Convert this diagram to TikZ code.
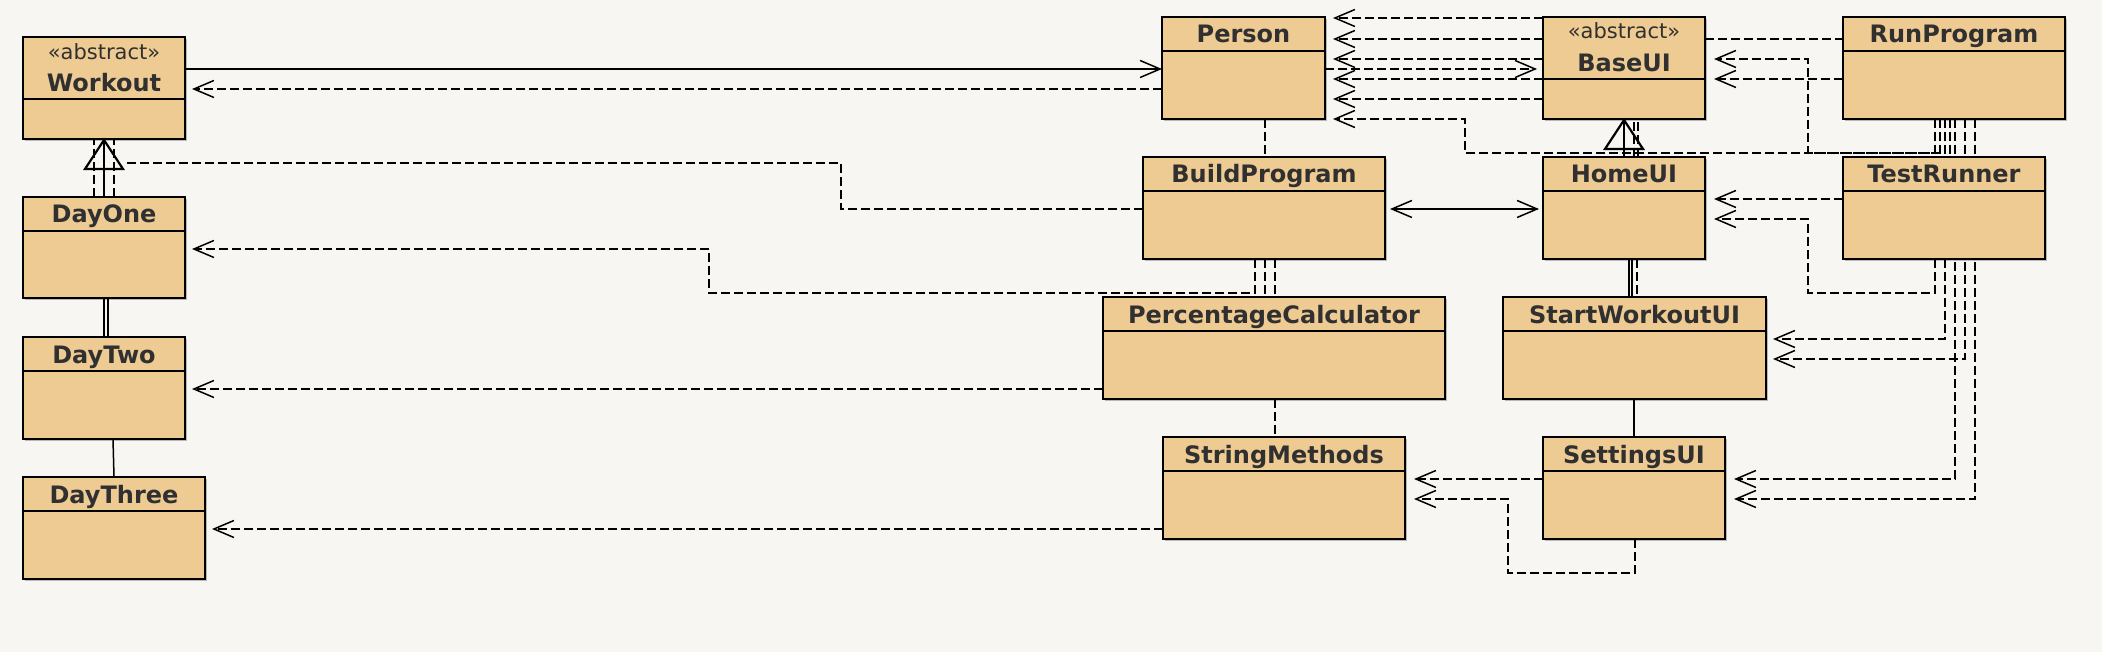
\documentclass[tikz,border=0pt]{standalone}
\usepackage{fontspec}
\setmainfont{DejaVu Sans}
\usetikzlibrary{arrows.meta,calc,fit,backgrounds,shadows}
\definecolor{bgc}{RGB}{247,246,242}
\definecolor{clsfill}{RGB}{239,203,148}
\definecolor{txt}{RGB}{48,48,48}
\tikzset{
 cls/.style={draw=black, line width=1pt, fill=clsfill, inner sep=0pt, outer sep=0pt,
   drop shadow={shadow xshift=1.2pt, shadow yshift=-1.2pt, opacity=0.25, fill=black}},
 divl/.style={draw=black, line width=1pt},
 ttl/.style={font=\fontsize{12}{14}\selectfont\bfseries, text=txt, inner sep=0pt, anchor=base},
 ster/.style={font=\fontsize{10.5}{12}\selectfont, text=txt, inner sep=0pt, anchor=base},
 dline/.style={line width=0.75pt, dash pattern=on 4.5pt off 2pt},
 dep/.style={dline, -{Straight Barb[length=10pt,width=8.5pt]}},
 sline/.style={line width=0.75pt},
 assoc/.style={sline, -{Straight Barb[length=10pt,width=8.5pt]}},
 biassoc/.style={sline, {Straight Barb[length=10pt,width=8.5pt]}-{Straight Barb[length=10pt,width=8.5pt]}},
 thick1/.style={line width=1.1pt},
 tri/.style={line width=1.1pt, line join=miter},
}
\newcommand\umlbox[6]{%
 \node[cls, fit={(#2,#3) (#4,#5)}] (#1) {};
 \draw[divl] ($(#1.north west)+(0,#6)$) -- ($(#1.north east)+(0,#6)$);
}
\begin{document}
\begin{tikzpicture}[x=0.5pt,y=-0.5pt]
\useasboundingbox (0,0) rectangle (2102,652);
% classes
\umlbox{Workout}{23}{37}{185}{139}{62}
\umlbox{DayOne}{23}{197}{185}{298}{34}
\umlbox{DayTwo}{23}{337}{185}{439}{34}
\umlbox{DayThree}{23}{477}{205}{579}{34}
\umlbox{Person}{1162}{17}{1325}{119}{34}
\umlbox{BaseUI}{1543}{17}{1705}{119}{62}
\umlbox{RunProgram}{1843}{17}{2065}{119}{34}
\umlbox{BuildProgram}{1143}{157}{1385}{259}{34}
\umlbox{HomeUI}{1543}{157}{1705}{259}{34}
\umlbox{TestRunner}{1843}{157}{2045}{259}{34}
\umlbox{PercentageCalculator}{1103}{297}{1445}{399}{34}
\umlbox{StartWorkoutUI}{1503}{297}{1766}{399}{34}
\umlbox{StringMethods}{1163}{437}{1405}{539}{34}
\umlbox{SettingsUI}{1543}{437}{1725}{539}{34}
% titles
\node[ster] (WorkoutS) at ($(Workout.north)+(0,23)$) {«abstract»};
\node[ttl] (WorkoutT) at ($(Workout.north)+(0,55)$) {Workout};
\node[ster] (BaseUIS) at ($(BaseUI.north)+(0,22)$) {«abstract»};
\node[ttl] (BaseUIT) at ($(BaseUI.north)+(0,55)$) {BaseUI};
\foreach \n in {DayOne,DayTwo,DayThree,Person,RunProgram,BuildProgram,HomeUI,TestRunner,PercentageCalculator,StartWorkoutUI,StringMethods,SettingsUI}
  \node[ttl] (\n T) at ($(\n.north)+(0,26)$) {\n};
% connectors
\begin{scope}[on background layer]
\fill[bgc] (0,0) rectangle (2102,652);
% Workout -> Person
\draw[assoc] ($(Workout.north east)+(0,32)$) -- ($(Person.north west)+(0,52)$);
\draw[dep] ($(Person.north west)+(0,72)$) -- ($(Workout.north east)+(7,52)$);
% BuildProgram -> Workout
\draw[dline] ($(BuildProgram.north west)+(0,52)$) -| (841,163) -- ($(Workout.south west)+(101,24)$);
% BuildProgram -> DayOne
\draw[dep] ($(BuildProgram.south west)+(112,0)$) |- (709,293) |- ($(DayOne.north east)+(7,52)$);
% PercentageCalculator -> DayTwo
\draw[dep] ($(PercentageCalculator.north west)+(0,92)$) -- ($(DayTwo.north east)+(7,52)$);
% StringMethods -> DayThree
\draw[dep] ($(StringMethods.north west)+(0,92)$) -- ($(DayThree.north east)+(7,52)$);
% Person - BuildProgram
\draw[dline] ($(Person.south west)+(103,0)$) -- ($(BuildProgram.north west)+(122,0)$);
% BuildProgram - PercentageCalculator
\draw[dline] ($(BuildProgram.south west)+(122,0)$) -- ($(PercentageCalculator.north west)+(162,0)$);
\draw[dline] ($(BuildProgram.south west)+(132,0)$) -- ($(PercentageCalculator.north west)+(172,0)$);
% PercentageCalculator - StringMethods
\draw[dline] ($(PercentageCalculator.south west)+(172,0)$) -- ($(StringMethods.north west)+(112,0)$);
% BaseUI -> Person
\foreach \k in {1,22,42,62,82}
  \draw[dep] ($(BaseUI.north west)+(0,\k)$) -- ($(Person.north east)+(8,\k)$);
% Person -> BaseUI
\draw[dep] ($(Person.north east)+(0,52)$) -- ($(BaseUI.north west)+(-6,52)$);
% RunProgram -> Person
\draw[dep] ($(RunProgram.south west)+(92,0)$) |- (1465,153) |- ($(Person.north east)+(8,102)$);
% RunProgram -> BaseUI
\draw[dep] ($(RunProgram.south west)+(102,0)$) |- (1808,153) |- ($(BaseUI.north east)+(9,42)$);
\draw[dline] ($(BaseUI.north east)+(0,22)$) -- ($(RunProgram.north west)+(0,22)$);
\draw[dep] ($(RunProgram.north west)+(0,62)$) -- ($(BaseUI.north east)+(9,62)$);
% RunProgram - TestRunner
\draw[dline] ($(RunProgram.south west)+(97,0)$) -- ($(TestRunner.north west)+(97,0)$);
\draw[dline] ($(RunProgram.south west)+(107,0)$) -- ($(TestRunner.north west)+(107,0)$);
% RunProgram -> SettingsUI / StartWorkoutUI
\draw[dep] ($(RunProgram.south west)+(112,0)$) |- ($(SettingsUI.north east)+(9,42)$);
\draw[dep] ($(RunProgram.south west)+(122,0)$) |- ($(StartWorkoutUI.north east)+(7,62)$);
\draw[dep] ($(RunProgram.south west)+(132,0)$) |- ($(SettingsUI.north east)+(9,62)$);
% TestRunner -> HomeUI / StartWorkoutUI
\draw[dep] ($(TestRunner.north west)+(0,42)$) -- ($(HomeUI.north east)+(9,42)$);
\draw[dep] ($(TestRunner.south west)+(92,0)$) |- (1808,293) |- ($(HomeUI.north east)+(9,62)$);
\draw[dep] ($(TestRunner.south west)+(102,0)$) |- ($(StartWorkoutUI.north east)+(7,42)$);
% SettingsUI -> StringMethods
\draw[dep] ($(SettingsUI.north west)+(0,42)$) -- ($(StringMethods.north east)+(9,42)$);
\draw[dep] ($(SettingsUI.south west)+(92,0)$) |- (1508,573) |- ($(StringMethods.north east)+(9,62)$);
% BuildProgram <-> HomeUI
\draw[biassoc] ($(BuildProgram.north east)+(5,52)$) -- ($(HomeUI.north west)+(-4,52)$);
% HomeUI - BaseUI
\draw[thick1] ($(HomeUI.north west)+(81,0)$) -- ($(BaseUI.south west)+(81,30)$);
\draw[sline] ($(BaseUI.south west)+(81,30)$) -- ($(BaseUI.south west)+(81,0)$);
\draw[dline] ($(HomeUI.north west)+(91,0)$) -- ($(BaseUI.south west)+(91,0)$);
\draw[dline] ($(HomeUI.north west)+(95,0)$) -- ($(BaseUI.south west)+(95,0)$);
% HomeUI - StartWorkoutUI
\draw[sline] ($(HomeUI.south west)+(86,0)$) -- ($(StartWorkoutUI.north west)+(126,0)$);
\draw[sline] ($(HomeUI.south west)+(89,0)$) -- ($(StartWorkoutUI.north west)+(129,0)$);
\draw[dline] ($(HomeUI.south west)+(94,0)$) -- ($(StartWorkoutUI.north west)+(134,0)$);
% StartWorkoutUI - SettingsUI
\draw[thick1] ($(StartWorkoutUI.south west)+(131,0)$) -- ($(SettingsUI.north west)+(91,0)$);
% DayOne - Workout
\draw[thick1] ($(DayOne.north west)+(81,0)$) -- ($(Workout.south west)+(81,30)$);
\draw[sline] ($(Workout.south west)+(81,30)$) -- ($(Workout.south west)+(81,0)$);
\draw[dline] ($(DayOne.north west)+(71,0)$) -- ($(Workout.south west)+(71,0)$);
\draw[dline] ($(DayOne.north west)+(91,0)$) -- ($(Workout.south west)+(91,0)$);
% DayTwo - DayOne
\draw[sline] ($(DayTwo.north west)+(81,0)$) -- ($(DayOne.south west)+(81,0)$);
\draw[sline] ($(DayTwo.north west)+(85,0)$) -- ($(DayOne.south west)+(85,0)$);
% DayThree - DayTwo
\draw[sline] ($(DayThree.north west)+(91,0)$) -- ($(DayTwo.south west)+(90,0)$);
\end{scope}
% generalization triangles
\draw[tri] ($(Workout.south west)+(81,1)$) -- ++(-19,29) -- ++(38,0) -- cycle;
\draw[tri] ($(BaseUI.south west)+(81,1)$) -- ++(-19,29) -- ++(38,0) -- cycle;
\end{tikzpicture}
\end{document}
